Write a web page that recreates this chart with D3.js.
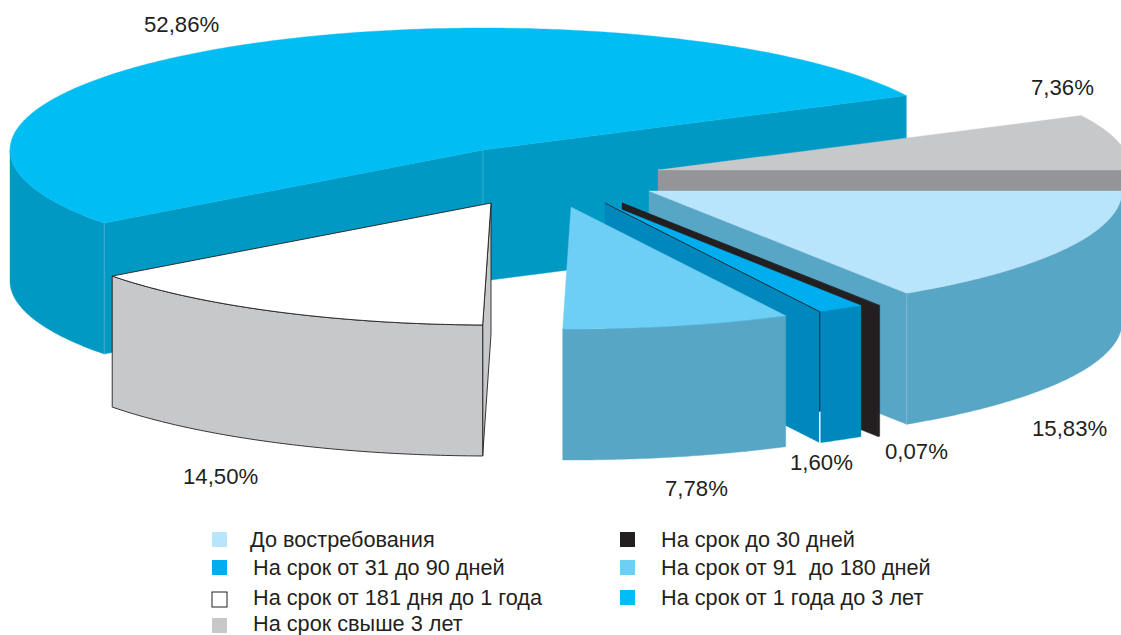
<!DOCTYPE html>
<html><head><meta charset="utf-8">
<script src="https://cdn.jsdelivr.net/npm/d3@7"></script>
<style>html,body{margin:0;padding:0;background:#fff;overflow:hidden}svg{display:block}
text{font-family:"Liberation Sans",Arial,sans-serif;fill:#231f20;white-space:pre}</style>
</head><body><svg id="c" width="1121" height="635"></svg>
<script>
// Data, in pie order (clockwise from 3 o'clock)
const categories = ["До востребования","На срок до 30 дней","На срок от 31 до 90 дней","На срок от 91  до 180 дней","На срок от 181 дня до 1 года","На срок от 1 года до 3 лет","На срок свыше 3 лет"];
const values = [15.83,0.07,1.60,7.78,14.50,52.86,7.36];
const valueLabels = ["15,83%","0,07%","1,60%","7,78%","14,50%","52,86%","7,36%"];

// Styles per category
const topColors  = ["#b8e5fb","#231f20","#00aeef","#6dcff6","#ffffff","#00bdf4","#c7c8ca"];
const sideColors = ["#58a6c6","#231f20","#0088bc","#58a6c6","#c7c8ca","#0099c3","#939598"];
const outlined   = [false,false,false,false,true,false,false];
const cornerLine = ["#7fbdd6",null,null,null,null,"#4fb4d2",null];

// Layout: exploded apex of each slice, label anchors, draw order, legend grid
const apexes = [[649,191],[622,203],[605,203],[571,207],[491,203],[483,150],[658,170]];
const labelPos = [[1032,436],[885,459],[790,470],[665,496],[183,484],[144,32],[1031,95]];
const drawOrder = [5,6,0,1,2,3,4];
const legendPos = [[212,532,250,547],[620,532,661,547],[212,560,253,575],[620,560,661,575],[212,592,253,605],[620,590,661,605],[212,618,253,631]];
const RX = 473, RY = 122, DEPTH = 131;
const BRIGHT = 2, CREASE_SPLIT = 100;

const svg = d3.select("#c");
const sx = d3.scaleLinear().domain([-1,1]).range([-RX,RX]);
const sy = d3.scaleLinear().domain([-1,1]).range([-RY,RY]);
const arcs = d3.pie().sort(null).startAngle(Math.PI/2).endAngle(Math.PI*2.5)(values);
const line = d3.line();
const rad = a => a - Math.PI/2; // d3 pie angle -> ellipse parameter

function rimPt(c,t,dz){ return [c[0]+sx(Math.cos(t)), c[1]+sy(Math.sin(t))+(dz||0)]; }
function rim(c,t0,t1,dz){
  const n = Math.max(2,Math.ceil((t1-t0)/0.01));
  return d3.range(n+1).map(i=>rimPt(c,t0+(t1-t0)*i/n,dz));
}
drawOrder.forEach(i=>{
  const a = arcs[i], c = apexes[i], t0 = rad(a.startAngle), t1 = rad(a.endAngle);
  const g = svg.append("g").attr("class","slice");
  const st = outlined[i] ? {stroke:"#231f20",w:0.9} : {stroke:sideColors[i],w:0.4};
  const face = t=>{
    const p = rimPt(c,t);
    g.append("path").attr("d",line([c,p,[p[0],p[1]+DEPTH],[c[0],c[1]+DEPTH]])+"Z")
     .attr("fill",sideColors[i]).attr("stroke",st.stroke).attr("stroke-width",st.w).attr("stroke-linejoin","round");
  };
  if(Math.cos(t0) < 0) face(t0);   // start wall turned towards the viewer
  if(Math.cos(t1) > 0) face(t1);   // end wall turned towards the viewer
  // outer rim wall on the front half of the ellipse
  const ra = Math.max(t0,0), rb = Math.min(t1,Math.PI);
  if(rb > ra){
    const pts = rim(c,ra,rb,0).concat(rim(c,ra,rb,DEPTH).reverse());
    g.append("path").attr("d",line(pts)+"Z").attr("fill",sideColors[i])
     .attr("stroke",st.stroke).attr("stroke-width",st.w).attr("stroke-linejoin","round");
  }
  // top
  g.append("path").attr("d",line([c].concat(rim(c,t0,t1,0)))+"Z").attr("fill",topColors[i])
   .attr("stroke",outlined[i]?"#231f20":topColors[i]).attr("stroke-width",outlined[i]?0.9:0.4).attr("stroke-linejoin","round");
  // pale crease lines at wall corners
  if(cornerLine[i]){
    const cl = (x,y)=>g.append("line").attr("x1",x).attr("x2",x).attr("y1",y).attr("y2",y+DEPTH)
      .attr("stroke",cornerLine[i]).attr("stroke-width",0.8);
    if(i===5){ cl(c[0],c[1]); }
    const p = rimPt(c, i===5 ? t0 : t1);
    cl(p[0],p[1]);
  }
  // the 31-90 day slice: dark edge along its end wall, then a white gap at the corner
  if(i===BRIGHT){
    const p = rimPt(c,t1);
    g.append("path").attr("d",line([c,p,[p[0],p[1]+CREASE_SPLIT]])).attr("fill","none")
     .attr("stroke","#231f20").attr("stroke-width",0.9);
    g.append("line").attr("x1",p[0]).attr("x2",p[0]).attr("y1",p[1]+CREASE_SPLIT).attr("y2",p[1]+DEPTH+1)
     .attr("stroke","#fff").attr("stroke-width",1.5);
  }
});

// value labels
svg.append("g").selectAll("text").data(valueLabels).join("text")
  .attr("x",(d,i)=>labelPos[i][0]).attr("y",(d,i)=>labelPos[i][1])
  .attr("font-size",22.2).text(d=>d);

// legend
const lg = svg.append("g").selectAll("g").data(categories).join("g");
lg.append("rect").attr("x",(d,i)=>legendPos[i][0]).attr("y",(d,i)=>legendPos[i][1])
  .attr("width",15).attr("height",15)
  .attr("fill",(d,i)=>topColors[i])
  .attr("stroke",(d,i)=>outlined[i]?"#231f20":"none").attr("stroke-width",1);
lg.append("text").attr("x",(d,i)=>legendPos[i][2]).attr("y",(d,i)=>legendPos[i][3])
  .attr("font-size",21.7).text(d=>d);
</script></body></html>
